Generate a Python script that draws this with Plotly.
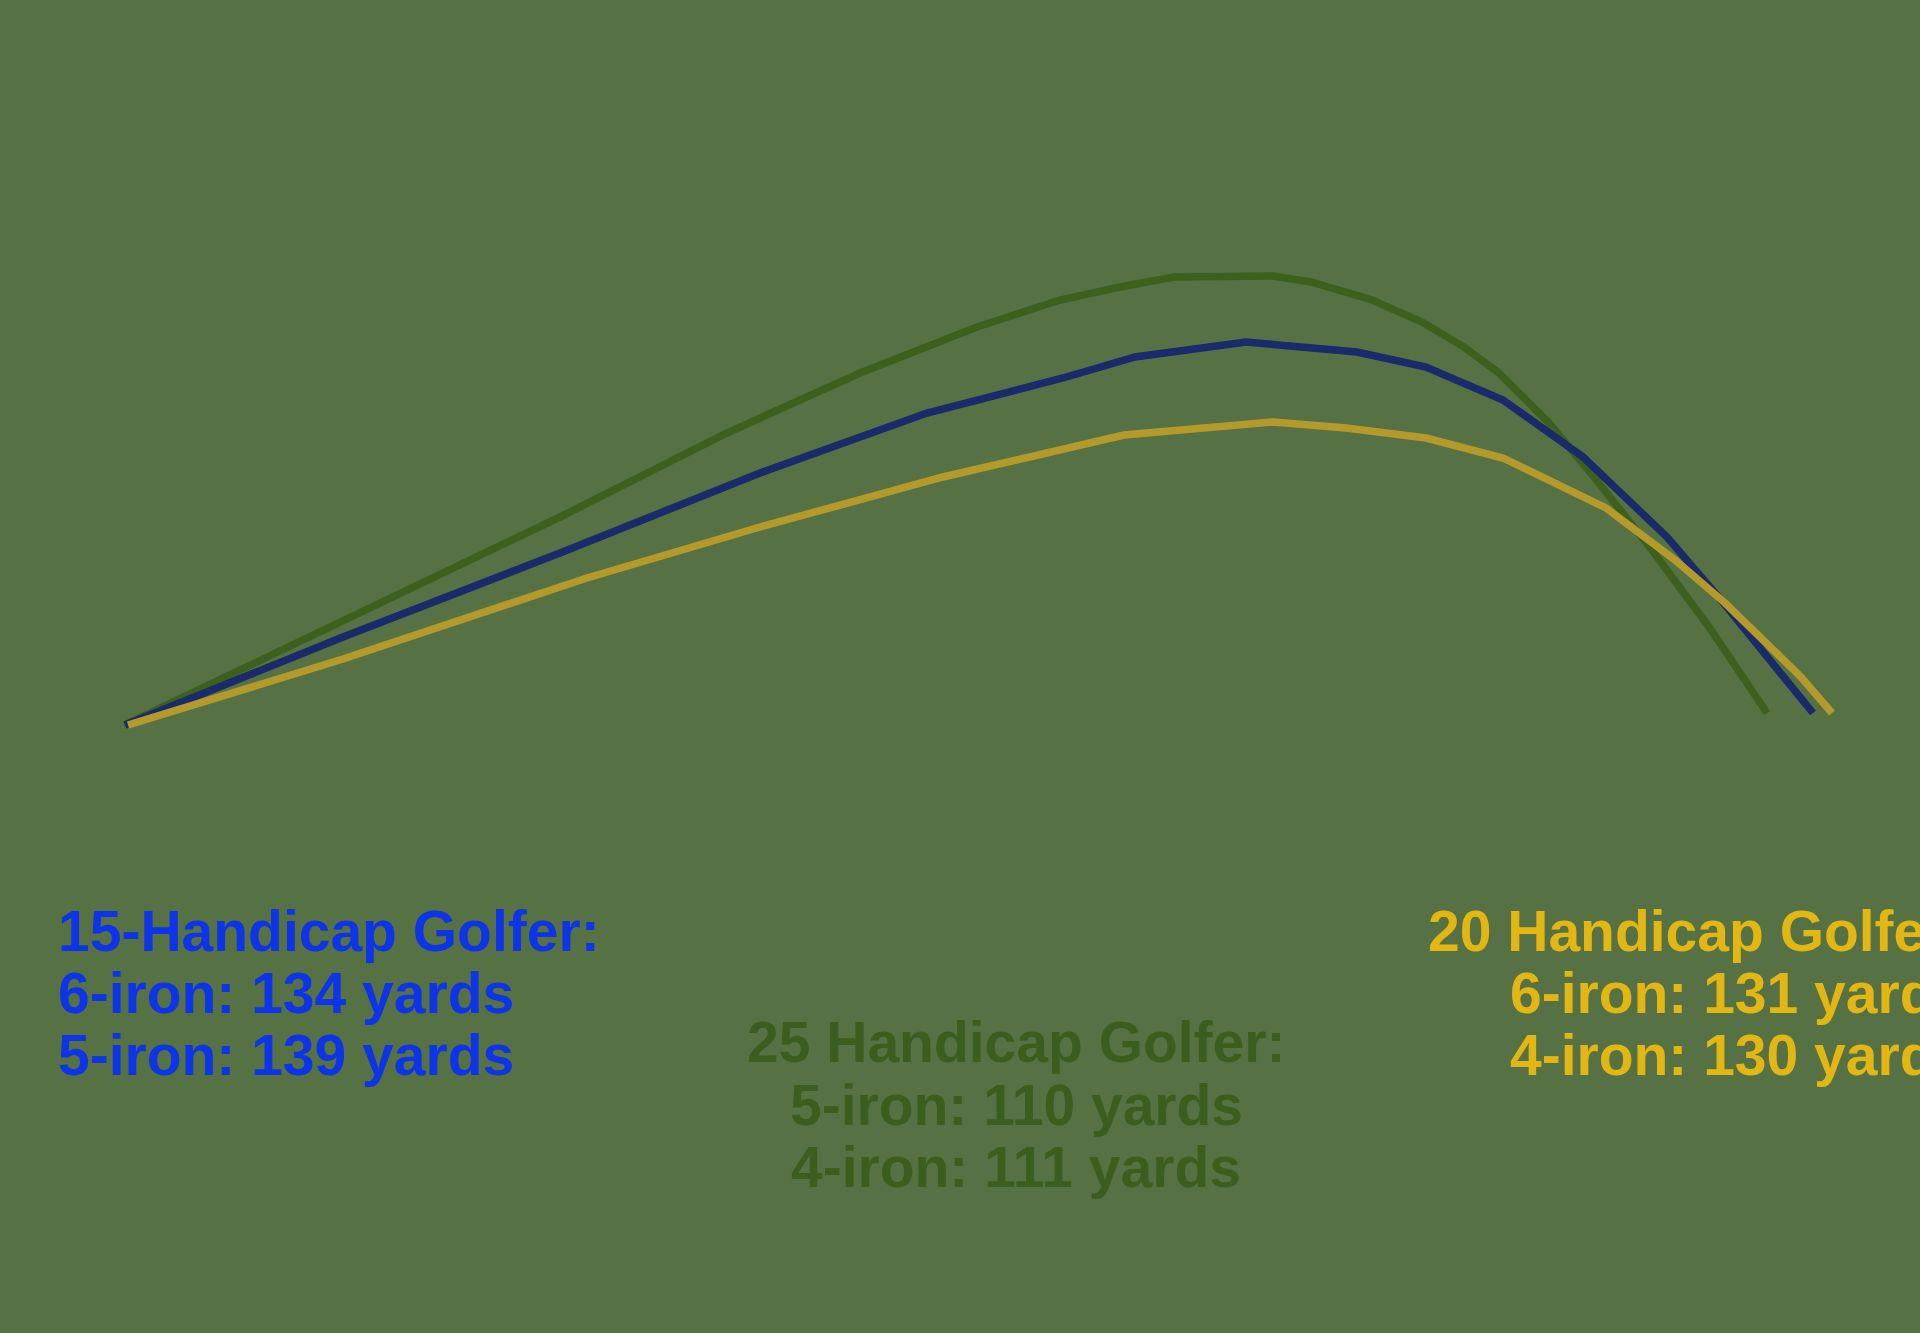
import plotly.graph_objects as go

# Ball-flight traces (downrange distance, height) in arbitrary units
dist_25 = [0, 18.5, 31.8, 43.5, 60.2, 73.5, 85.2, 93.5, 99.5, 104.9, 114.8, 118.6, 124.7,
           129.7, 133.9, 137.4, 142.4, 146.9, 152.7, 158.4, 164.2]
height_25 = [0, 8.8, 15.2, 20.8, 29.2, 35.2, 39.8, 42.5, 43.8, 44.8, 44.9, 44.3, 42.5,
             40.3, 37.8, 35.2, 30.2, 24.8, 17.5, 9.8, 1.2]

dist_15 = [0, 21.8, 43.5, 63.5, 80.2, 93.8, 101.0, 112.1, 123.2, 130.1, 137.8, 145.8,
           154.2, 159.6, 168.8]
height_15 = [0, 8.8, 17.2, 25.2, 31.2, 34.7, 36.8, 38.3, 37.3, 35.8, 32.5, 26.8,
             18.8, 12.5, 1.2]

dist_20 = [0.3, 21.8, 46.2, 63.5, 81.8, 93.8, 99.9, 114.8, 122.1, 130.1, 137.8, 148.1,
           155.0, 160.0, 167.6, 170.7]
height_20 = [0, 6.6, 14.7, 19.8, 24.8, 27.7, 29.0, 30.3, 29.7, 28.7, 26.7, 21.7,
             16.5, 12.2, 4.8, 1.2]

labels_15 = ["15-Handicap Golfer:", "6-iron: 134 yards", "5-iron: 139 yards"]
labels_25 = ["25 Handicap Golfer:", "5-iron: 110 yards", "4-iron: 111 yards"]
labels_20 = ["20 Handicap Golfer:", "6-iron: 131 yards", "4-iron: 130 yards"]

BG = "#567244"
W, H = 1920, 1333

fig = go.Figure()
fig.add_trace(go.Scatter(x=dist_25, y=height_25, mode="lines",
                         line=dict(color="#3d611c", width=7.5), hoverinfo="skip"))
fig.add_trace(go.Scatter(x=dist_15, y=height_15, mode="lines",
                         line=dict(color="#1b2a6b", width=7.5), hoverinfo="skip"))
fig.add_trace(go.Scatter(x=dist_20, y=height_20, mode="lines",
                         line=dict(color="#b39a2b", width=7.5), hoverinfo="skip"))

FONT = "Liberation Sans"
FS = 57


def add_block(lines, color, xpx, ypxs, anchor):
    for txt, ypx in zip(lines, ypxs):
        fig.add_annotation(
            text="<b>%s</b>" % txt, xref="paper", yref="paper",
            x=xpx / W, y=1 - ypx / H, xanchor=anchor, yanchor="middle",
            showarrow=False, font=dict(family=FONT, size=FS, color=color))


add_block(labels_15, "#0d34e6", 56, [931, 993, 1055], "left")
add_block(labels_25, "#3b5e1f", 1016, [1042, 1105, 1167], "center")
add_block(labels_20, "#e3b713", 1968, [931, 993, 1055], "right")

fig.update_layout(
    width=W, height=H,
    margin=dict(l=0, r=0, t=0, b=0),
    paper_bgcolor=BG, plot_bgcolor=BG,
    showlegend=False,
    xaxis=dict(range=[-12.5, 179.5], visible=False, fixedrange=True),
    yaxis=dict(range=[-60.8, 72.5], visible=False, fixedrange=True),
)

fig.write_html("out.html",
               config={"displayModeBar": False},
               post_script="document.body.style.margin='0';document.body.style.overflow='hidden';")
